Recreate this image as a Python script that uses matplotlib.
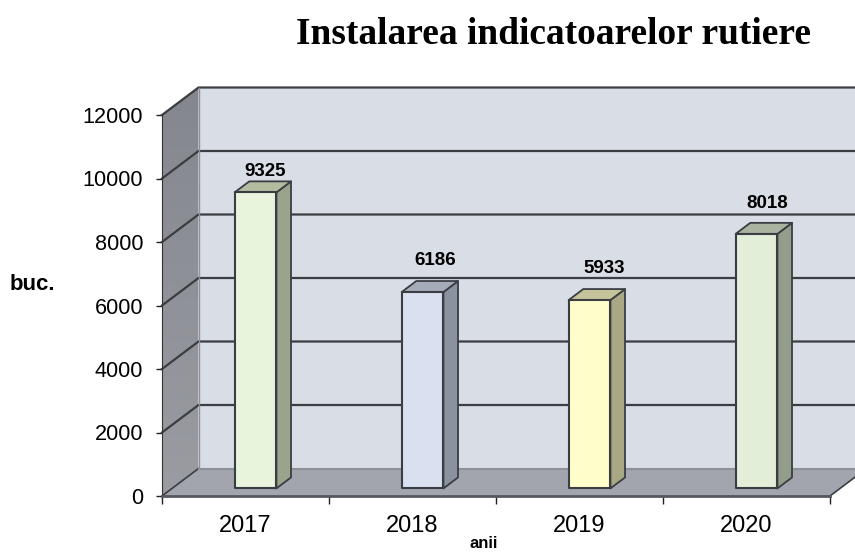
import numpy as np
import matplotlib
matplotlib.use('Agg')
import matplotlib.pyplot as plt
from matplotlib.patches import Polygon

years = ['2017', '2018', '2019', '2020']
values = [9325, 6186, 5933, 8018]
y_ticks = [0, 2000, 4000, 6000, 8000, 10000, 12000]
front_colors = ['#e8f5dc', '#d9e0f0', '#ffffcc', '#e2eed8']
side_colors = ['#9aa48c', '#8a929f', '#a9a884', '#929d8c']
top_colors = ['#b4bca0', '#a5abb8', '#c4c39a', '#a9b39f']

plt.rcParams['font.family'] = ['Liberation Sans', 'DejaVu Sans']

W, H = 855, 553
fig = plt.figure(figsize=(W / 100, H / 100), dpi=100)
ax = fig.add_axes([162 / W, 1 - 496 / H, 668 / W, 381 / H])
ax.set_xlim(0, 4)
ax.set_ylim(0, 12000)

# fake 3d: depth offset of the back wall in data units
dx = 36.5 / 167
dy = 27.5 * 12000 / 381
edge = '#3a3d42'


def poly(pts, fc, ec='none', lw=0, z=1):
    p = Polygon(pts, closed=True, facecolor=fc, edgecolor=ec, linewidth=lw,
                zorder=z, clip_on=False, joinstyle='round')
    ax.add_patch(p)
    return p


# back wall, floor, left wall
poly([(dx, dy), (4 + dx, dy), (4 + dx, 12000 + dy), (dx, 12000 + dy)], '#d8dde6')
poly([(0, 0), (4, 0), (4 + dx, dy), (dx, dy)], '#a2a5ad')
wall = poly([(0, 0), (dx, dy), (dx, 12000 + dy), (0, 12000)], 'none')
grad = np.linspace(0, 1, 100).reshape(-1, 1)
im = ax.imshow(grad, extent=(0, dx, 0, 12000 + dy), aspect='auto', zorder=1.5,
               cmap=matplotlib.colors.LinearSegmentedColormap.from_list('w', ['#9a9ca2', '#84878e']),
               origin='lower')
im.set_clip_box(fig.bbox)
im.set_clip_path(wall)
ax.set_xlim(0, 4)
ax.set_ylim(0, 12000)

# gridlines on the walls
for t in y_ticks[1:]:
    ax.plot([0, dx, 4 + dx], [t, t + dy, t + dy], color=edge, lw=1.6, zorder=2, clip_on=False)
ax.plot([0, dx], [0, dy], color=edge, lw=1.2, zorder=2, clip_on=False)
ax.plot([4, 4 + dx], [0, dy], color=edge, lw=1.2, zorder=2, clip_on=False)
ax.plot([dx, 4 + dx], [dy, dy], color='#8e9198', lw=1.5, zorder=2, clip_on=False)
ax.plot([dx, dx], [dy, 12000 + dy], color='#8e9198', lw=1.0, zorder=2, clip_on=False)

# bars
bar_w = 0.25
off = 0.275
depth = 0.40
# label nudges in points, the labels do not sit evenly above the bars
label_dx = [2, 3.5, 5, 2.5]
label_dy = [1, 9, 9, 7.5]
for i, v in enumerate(values):
    x0 = i + 0.5 - bar_w / 2 + off * dx
    x1 = x0 + bar_w
    y0 = off * dy
    y1 = v + y0
    ddx = depth * dx
    ddy = depth * dy
    poly([(x1, y0), (x1 + ddx, y0 + ddy), (x1 + ddx, y1 + ddy), (x1, y1)], side_colors[i], edge, 1.3, 3)
    poly([(x0, y1), (x1, y1), (x1 + ddx, y1 + ddy), (x0 + ddx, y1 + ddy)], top_colors[i], edge, 1.3, 3)
    poly([(x0, y0), (x1, y0), (x1, y1), (x0, y1)], front_colors[i], edge, 1.5, 4)
    ax.annotate(f'{v}', ((x0 + x1 + ddx) / 2, y1 + ddy), xytext=(label_dx[i], label_dy[i]),
                textcoords='offset points', ha='center', va='bottom',
                fontsize=13.5, fontweight='bold', color='black', zorder=5)

ax.set_xticks([0, 1, 2, 3, 4])
ax.set_xticklabels([])
ax.set_xticks([0.5, 1.5, 2.5, 3.5], minor=True)
ax.set_xticklabels(years, minor=True, fontsize=17)
ax.tick_params(axis='x', which='minor', length=0, pad=14)
ax.tick_params(axis='x', which='major', length=6, width=1, color='#222222')
ax.set_yticks(y_ticks)
ax.set_yticklabels([str(t) for t in y_ticks], fontsize=15.6)
ax.tick_params(axis='y', length=4.5, width=1, color='#222222', pad=9)
for s in ['top', 'right']:
    ax.spines[s].set_visible(False)
ax.spines['left'].set_color('#333333')
ax.spines['bottom'].set_color('#55585e')
ax.spines['bottom'].set_linewidth(2)
ax.spines['bottom'].set_zorder(2.5)

fig.text(553 / W, 1 - 34 / H, 'Instalarea indicatoarelor rutiere', ha='center', va='center',
         fontsize=26.9, fontweight='bold', family=['Liberation Serif', 'DejaVu Serif'])
fig.text(32 / W, 1 - 284 / H, 'buc.', ha='center', va='center', fontsize=16, fontweight='bold')
fig.text(484 / W, 1 - 544 / H, 'anii', ha='center', va='center', fontsize=12, fontweight='bold')

plt.savefig('out.png', dpi=100)
